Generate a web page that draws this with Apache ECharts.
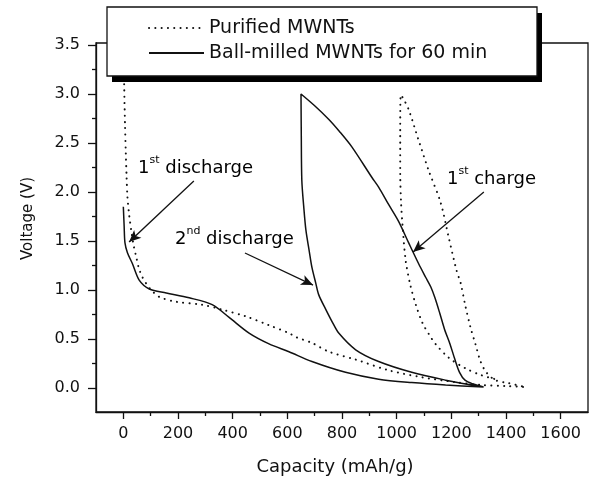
<!DOCTYPE html>
<html>
<head>
<meta charset="utf-8">
<script src="https://cdn.jsdelivr.net/npm/echarts@6/dist/echarts.min.js"></script>
<style>html,body{margin:0;padding:0;background:#fff;}#c{width:591px;height:487px;}</style>
</head>
<body>
<div id="c"></div>
<script>
// ---- data (capacity mAh/g, voltage V) ----
var seriesNames = ['Purified MWNTs', 'Ball-milled MWNTs for 60 min'];

var purifiedDischarge1 = [[3,3.10],[6,2.7],[9,2.4],[12,2.15],[15,1.95],[22,1.75],[29,1.61],[38,1.45],[47,1.34],[57,1.22],[70,1.13],[85,1.06],[102,1.00],[131,0.93],[193,0.88],[288,0.85],[361,0.80],[449,0.73],[533,0.64],[606,0.56],[631,0.52],[690,0.46],[752,0.37],[850,0.29],[971,0.18],[1091,0.11],[1215,0.06],[1310,0.03],[1400,0.02],[1471,0.01]];
var purifiedCharge1 = [[1471,0.01],[1409,0.05],[1361,0.08],[1328,0.16],[1307,0.27],[1288,0.45],[1270,0.62],[1252,0.83],[1234,1.07],[1219,1.20],[1190,1.54],[1161,1.89],[1117,2.22],[1080,2.53],[1044,2.84],[1025,2.95],[1015,2.99]];
var purifiedDischarge2 = [[1015,2.99],[1013,2.6],[1013,2.2],[1016,1.9],[1022,1.64],[1033,1.30],[1050,1.05],[1070,0.85],[1095,0.66],[1120,0.54],[1142,0.45],[1190,0.31],[1252,0.20],[1310,0.13],[1361,0.09]];

var milledDischarge1 = [[0,1.85],[3,1.65],[6,1.48],[15,1.38],[33,1.27],[58,1.10],[95,1.01],[157,0.97],[241,0.92],[325,0.85],[387,0.72],[460,0.56],[533,0.45],[606,0.37],[690,0.27],[813,0.16],[934,0.09],[1055,0.055],[1179,0.03],[1318,0.01]];
var milledCharge1 = [[1318,0.01],[1280,0.04],[1250,0.08],[1230,0.16],[1212,0.30],[1195,0.45],[1175,0.60],[1158,0.76],[1140,0.92],[1125,1.03],[1106,1.13],[1080,1.27],[1044,1.48],[1007,1.70],[971,1.87],[934,2.05],[909,2.15],[836,2.46],[790,2.62],[752,2.74],[700,2.88],[650,3.00]];
var milledDischarge2 = [[650,3.00],[651,2.6],[653,2.12],[660,1.85],[668,1.61],[680,1.40],[690,1.23],[704,1.07],[715,0.95],[741,0.80],[765,0.67],[788,0.56],[850,0.39],[934,0.27],[1055,0.16],[1179,0.08],[1274,0.03],[1318,0.01]];

// ticks
var xMajorTicks = [0,200,400,600,800,1000,1200,1400,1600];
var xMinorTicks = [100,300,500,700,900,1100,1300,1500];
var yMajorTicks = [0,0.5,1.0,1.5,2.0,2.5,3.0,3.5];
var yMinorTicks = [0.25,0.75,1.25,1.75,2.25,2.75,3.25];

// annotations (data coordinates)
var annoText = [
  {n:'1', s:'st', t:' discharge', at:[54,2.265]},
  {n:'2', s:'nd', t:' discharge', at:[189,1.54]},
  {n:'1', s:'st', t:' charge', at:[1184,2.153]}
];
var annoArrows = [
  [[258,2.112],[21,1.489]],
  [[445,1.377],[694,1.05]],
  [[1319,2.00],[1060,1.387]]
];

var FONT = 'DejaVu Sans';
var INK = '#111';
var chart = echarts.init(document.getElementById('c'), null, {renderer:'canvas'});

var option = {
  animation: false,
  backgroundColor: '#fff',
  textStyle: {fontFamily: FONT, color: INK},
  grid: {left: 96, right: 3, top: 43, bottom: 75, show: true, borderColor: INK, borderWidth: 1.3, backgroundColor: 'transparent'},
  legend: {
    left: 107, top: 7, z: 10,
    orient: 'vertical',
    data: seriesNames,
    itemWidth: 55, itemHeight: 14, itemGap: 5,
    padding: [11, 48, 13, 41],
    backgroundColor: 'transparent',
    borderWidth: 0,
    itemStyle: {opacity: 0, color: 'transparent', borderWidth: 0},
    textStyle: {fontFamily: FONT, fontSize: 19, color: INK, lineHeight: 20},
    selectedMode: false
  },
  xAxis: [{
    type: 'value', min: -100, max: 1700, position: 'bottom',
    name: 'Capacity (mAh/g)', nameLocation: 'middle', nameGap: 46,
    nameTextStyle: {fontFamily: FONT, fontSize: 18, color: INK, padding: [0, 14, 0, 0]},
    axisLine: {show: true, onZero: false, lineStyle: {color: INK, width: 1.3}},
    axisTick: {show: true, customValues: xMajorTicks, length: 7, lineStyle: {color: INK, width: 1.3}},
    axisLabel: {customValues: xMajorTicks, fontFamily: FONT, fontSize: 16, color: INK, margin: 14,
      formatter: function (v) { return String(Math.round(v)); }},
    splitLine: {show: false}
  }, {
    type: 'value', min: -100, max: 1700, position: 'bottom', gridIndex: 0,
    axisLine: {show: false, onZero: false},
    axisTick: {show: true, customValues: xMinorTicks, length: 4, lineStyle: {color: INK, width: 1.3}},
    axisLabel: {show: false},
    splitLine: {show: false}
  }],
  yAxis: [{
    type: 'value', min: -0.245, max: 3.52, position: 'left',
    name: 'Voltage (V)', nameLocation: 'middle', nameGap: 60,
    nameTextStyle: {fontFamily: FONT, fontSize: 15, color: INK, padding: [0, 0, 0, 18]},
    axisLine: {show: true, onZero: false, lineStyle: {color: INK, width: 1.3}},
    axisTick: {show: true, customValues: yMajorTicks, length: 8, lineStyle: {color: INK, width: 1.3}},
    axisLabel: {customValues: yMajorTicks, fontFamily: FONT, fontSize: 16, color: INK, margin: 16,
      formatter: function (v) { return (+v).toFixed(1); }},
    splitLine: {show: false}
  }, {
    type: 'value', min: -0.245, max: 3.52, position: 'left', gridIndex: 0,
    axisLine: {show: false, onZero: false},
    axisTick: {show: true, customValues: yMinorTicks, length: 4, lineStyle: {color: INK, width: 1.3}},
    axisLabel: {show: false},
    splitLine: {show: false}
  }],
  series: [{
    name: seriesNames[0], type: 'line', xAxisIndex: 0, yAxisIndex: 0,
    data: purifiedDischarge1.concat(purifiedCharge1, purifiedDischarge2),
    symbol: 'none', showSymbol: false, smooth: 0.3,
    lineStyle: {color: INK, width: 2, type: [0.1, 6.2], cap: 'round'},
    itemStyle: {color: INK}
  }, {
    name: seriesNames[1], type: 'line', xAxisIndex: 0, yAxisIndex: 0,
    data: milledDischarge1.concat(milledCharge1, milledDischarge2),
    symbol: 'none', showSymbol: false, smooth: 0.3,
    lineStyle: {color: INK, width: 1.5, type: 'solid'},
    itemStyle: {color: INK},
    markLine: {
      silent: true, animation: false,
      symbol: ['none', 'arrow'], symbolSize: [8, 12],
      label: {show: false},
      lineStyle: {color: INK, width: 1.3, type: 'solid'},
      itemStyle: {color: INK},
      data: annoArrows.map(function (a) { return [{coord: a[0]}, {coord: a[1]}]; })
    }
  }],
  graphic: [
    {type: 'rect', z: 5, silent: true, shape: {x: 112, y: 13, width: 430, height: 69}, style: {fill: '#000'}},
    {type: 'rect', z: 6, silent: true, shape: {x: 107, y: 7, width: 430, height: 69}, style: {fill: '#fff', stroke: INK, lineWidth: 1.3}}
  ]
};
chart.setOption(option);

var g = annoText.map(function (a, i) {
  var p = chart.convertToPixel({gridIndex: 0}, a.at);
  return {
    id: 'anno' + i,
    type: 'text', x: p[0], y: p[1], silent: true, z: 7,
    style: {
      text: '{n|' + a.n + '}{s|' + a.s + '}{t|' + a.t + '}',
      verticalAlign: 'middle', align: 'left',
      rich: {
        n: {fontFamily: FONT, fontSize: 18, color: INK, lineHeight: 22, verticalAlign: 'bottom'},
        s: {fontFamily: FONT, fontSize: 11, color: INK, lineHeight: 22, verticalAlign: 'top', padding: [0, 0, 8, 0]},
        t: {fontFamily: FONT, fontSize: 18, color: INK, lineHeight: 22, verticalAlign: 'bottom'}
      }
    }
  };
});
chart.setOption({graphic: g});
</script>
</body>
</html>
